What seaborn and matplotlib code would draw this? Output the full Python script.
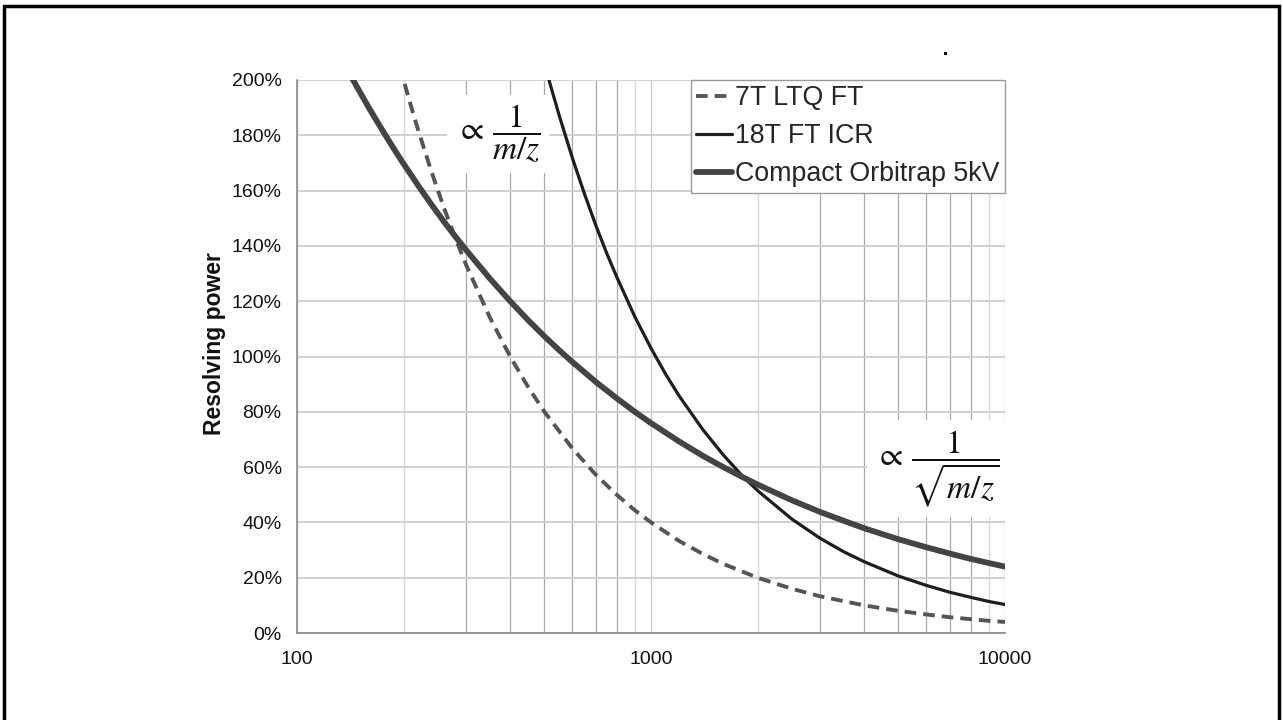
import numpy as np
import pandas as pd
import matplotlib
matplotlib.use("Agg")
import matplotlib.pyplot as plt
import matplotlib.patches as mpatches
from matplotlib.ticker import FixedLocator, NullFormatter
import seaborn as sns

# ---- data (resolving power in %, vs m/z) ----
orbi_mz = [140, 150, 160, 170, 180, 190, 200, 220, 240, 260, 280, 300, 350, 400, 450, 500,
           550, 600, 700, 800, 900, 1000, 1200, 1400, 1600, 1800, 2000, 2500, 3000, 3500,
           4000, 5000, 6000, 7000, 8000, 9000, 10000]
orbi_rp = [202.8, 196.0, 189.7, 184.1, 178.9, 174.1, 169.7, 161.8, 154.9, 148.8, 143.4, 138.6,
           128.3, 120.0, 113.1, 107.3, 102.3, 98.0, 90.7, 84.9, 80.0, 75.9, 69.3, 64.1, 60.0,
           56.6, 53.7, 48.0, 43.8, 40.6, 37.9, 33.9, 31.0, 28.7, 26.8, 25.3, 24.0]

icr_mz = [500, 520, 550, 600, 650, 700, 750, 800, 900, 1000, 1100, 1200, 1400, 1600, 1800,
          2000, 2500, 3000, 3500, 4000, 5000, 6000, 7000, 8000, 9000, 10000]
icr_rp = [206.0, 198.1, 187.3, 171.7, 158.5, 147.1, 137.3, 128.8, 114.4, 103.0, 93.6, 85.8,
          73.6, 64.4, 57.2, 51.5, 41.2, 34.3, 29.4, 25.8, 20.6, 17.2, 14.7, 12.9, 11.4, 10.3]

ltq_mz = [195, 200, 210, 220, 240, 260, 280, 300, 350, 400, 450, 500, 600, 700, 800, 900,
          1000, 1200, 1400, 1600, 2000, 2500, 3000, 4000, 5000, 6000, 7000, 8000, 9000, 10000]
ltq_rp = [205.1, 200.0, 190.5, 181.8, 166.7, 153.8, 142.9, 133.3, 114.3, 100.0, 88.9, 80.0,
          66.7, 57.1, 50.0, 44.4, 40.0, 33.3, 28.6, 25.0, 20.0, 16.0, 13.3, 10.0, 8.0, 6.7,
          5.7, 5.0, 4.4, 4.0]

series_names = ["7T LTQ FT", "18T FT ICR", "Compact Orbitrap 5kV"]
y_ticks = [0, 20, 40, 60, 80, 100, 120, 140, 160, 180, 200]
y_tick_labels = ["0%", "20%", "40%", "60%", "80%", "100%", "120%", "140%", "160%", "180%", "200%"]
x_ticks = [100, 1000, 10000]
x_tick_labels = ["100", "1000", "10000"]
y_label = "Resolving power"

# ---- style ----
sns.set_theme(style="white")
plt.rcParams["font.family"] = ["Liberation Sans", "DejaVu Sans"]
plt.rcParams["mathtext.fontset"] = "stix"

fig = plt.figure(figsize=(12.83, 7.2), dpi=100)
ax = fig.add_axes([297 / 1283, 1 - 633 / 720, (1005 - 297) / 1283, (633 - 80) / 720])

df_ltq = pd.DataFrame({"mz": ltq_mz, "rp": ltq_rp})
df_icr = pd.DataFrame({"mz": icr_mz, "rp": icr_rp})
df_orb = pd.DataFrame({"mz": orbi_mz, "rp": orbi_rp})

sns.lineplot(data=df_ltq, x="mz", y="rp", ax=ax, color="#555555", lw=2.8,
             label=series_names[0], zorder=4).lines[-1].set_dashes([3, 1.8])
sns.lineplot(data=df_icr, x="mz", y="rp", ax=ax, color="#1e1e1e", lw=2.3,
             label=series_names[1], zorder=4)
sns.lineplot(data=df_orb, x="mz", y="rp", ax=ax, color="#444444", lw=4.2,
             label=series_names[2], zorder=4)

ax.set_xscale("log")
ax.set_xlim(100, 10000)
ax.set_ylim(0, 200)

ax.xaxis.set_major_locator(FixedLocator(x_ticks))
ax.set_xticklabels(x_tick_labels)
minor = [m * d for d in (100, 1000) for m in range(2, 10)]
ax.xaxis.set_minor_locator(FixedLocator(minor))
ax.xaxis.set_minor_formatter(NullFormatter())
ax.set_yticks(y_ticks)
ax.set_yticklabels(y_tick_labels)

ax.tick_params(axis="both", which="major", labelsize=14, labelcolor="#111111",
               length=5, width=1, direction="out", pad=6, color="#888888")
ax.tick_params(axis="x", which="minor", length=0)
ax.tick_params(axis="x", which="major", pad=8)

ax.set_xlabel("")
ax.set_ylabel(y_label, fontsize=16.5, fontweight="bold", color="#111111")
ax.yaxis.set_label_coords(-0.10, 0.523)

ax.grid(True, which="major", axis="y", color="#d0d0d0", lw=1.4, zorder=0)
ax.grid(True, which="both", axis="x", color="#cccccc", lw=1.0, zorder=0)
for t, loc in zip(ax.xaxis.get_minor_ticks(), minor):
    first = int(str(int(loc))[0])
    if first == 2 or first == 9:
        t.gridline.set_color("#d6d6d6")
    else:
        t.gridline.set_color("#a8a8a8")
        t.gridline.set_linewidth(0.9)
ax.set_axisbelow(True)

for s in ["top", "right"]:
    ax.spines[s].set_visible(False)
for s in ["left", "bottom"]:
    ax.spines[s].set_color("#8a8a8a")
    ax.spines[s].set_linewidth(1.2)

leg = ax.legend(loc="upper right", bbox_to_anchor=(1.0, 1.0), borderaxespad=0,
                fontsize=19.3, handlelength=1.35, handletextpad=0.1, labelspacing=0.45,
                borderpad=0.2, fancybox=False, framealpha=1, edgecolor="#9a9a9a")
leg.get_frame().set_linewidth(1.0)
leg.set_zorder(6)

ax.text(370, 180.5, r"$\propto\,\dfrac{1}{m/z}$", fontsize=24, ha="center", va="center",
        color="#111111", zorder=5,
        bbox=dict(boxstyle="square,pad=0.25", fc="white", ec="none"))
ax.text(6450, 59.5, r"$\propto\,\dfrac{1}{\sqrt{m/z}}$", fontsize=24, ha="center", va="center",
        color="#111111", zorder=5,
        bbox=dict(boxstyle="square,pad=0.25", fc="white", ec="none"))

# outer frame
fig.patches.append(mpatches.Rectangle((4 / 1283, -0.02), (1279 - 4) / 1283, 1.02 - 6 / 720,
                                      transform=fig.transFigure, fill=False, ec="black",
                                      lw=2.5, zorder=10))
fig.patches.append(mpatches.Rectangle((944 / 1283, 1 - 55 / 720), 3 / 1283, 3 / 720,
                                      transform=fig.transFigure, fc="black", ec="none"))

fig.savefig("out.png", dpi=100)
